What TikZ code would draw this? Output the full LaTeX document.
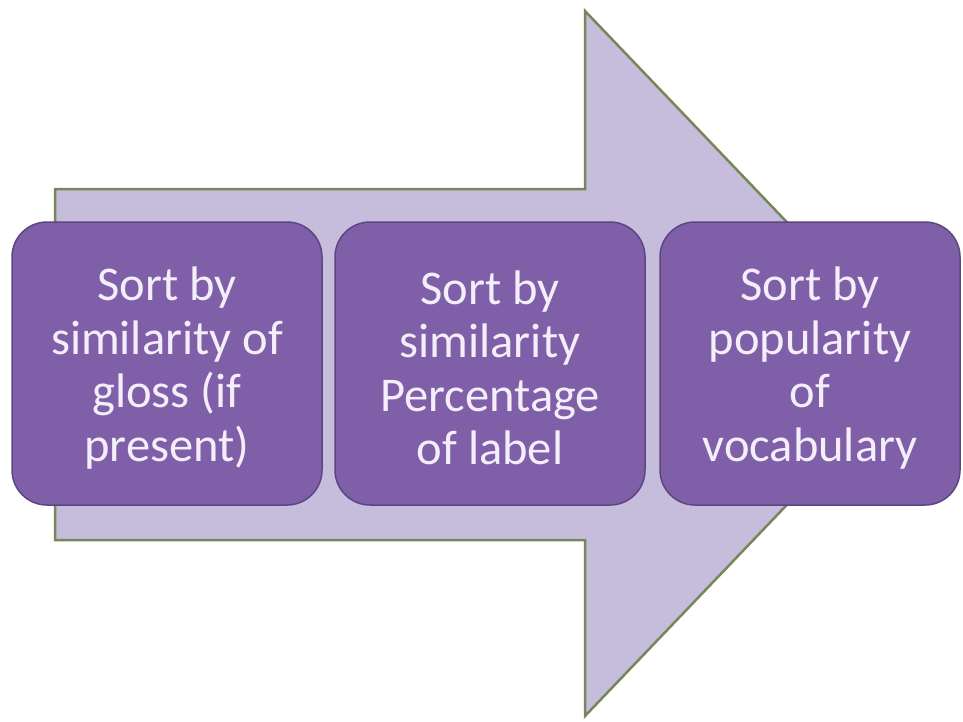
\documentclass[tikz,border=0pt]{standalone}
\usepackage{fontspec}
\setmainfont{Carlito}
\definecolor{arrowfill}{HTML}{C6BDDC}
\definecolor{arrowline}{HTML}{76885A}
\definecolor{boxfill}{HTML}{7F60A8}
\definecolor{boxline}{HTML}{5C4680}
\definecolor{boxtext}{HTML}{F4EEFA}
\tikzset{
  stepbox/.style={draw=boxline, line width=1.5pt, fill=boxfill, rounded corners=35pt,
    text=boxtext, align=center, inner sep=0pt,
    font=\fontsize{48.5}{53.5}\selectfont},
  bigarrow/.style={draw=arrowline, line width=2.5pt, fill=arrowfill, line join=miter}
}
\begin{document}
\begin{tikzpicture}[x=1pt,y=-1pt]
\useasboundingbox (0,0) rectangle (963,721);
\fill[white] (0,0) rectangle (963,721);
\coordinate (a1) at (55,189);
\coordinate (a2) at (585,189);
\coordinate (a3) at (585,11);
\coordinate (tip) at (922,363.5);
\coordinate (a5) at (585,716);
\coordinate (a6) at (585,540);
\coordinate (a7) at (55,540);
\draw[bigarrow] (a1) -- (a2) -- (a3) -- (tip) -- (a5) -- (a6) -- (a7) -- cycle;
\path[stepbox] (12,222) rectangle (322,505);
\path[stepbox] (335,222) rectangle (645,505);
\path[stepbox] (660,222) rectangle (960,505);
\node[stepbox, draw=none, fill=none] (b1) at (167,368) {Sort by\\similarity of\\gloss (if\\present)};
\node[stepbox, draw=none, fill=none] (b2) at (490,368) {Sort by\\similarity\\Percentage\\of label};
\node[stepbox, draw=none, fill=none] (b3) at (810,368) {Sort by\\popularity\\of\\vocabulary};
\end{tikzpicture}
\end{document}
